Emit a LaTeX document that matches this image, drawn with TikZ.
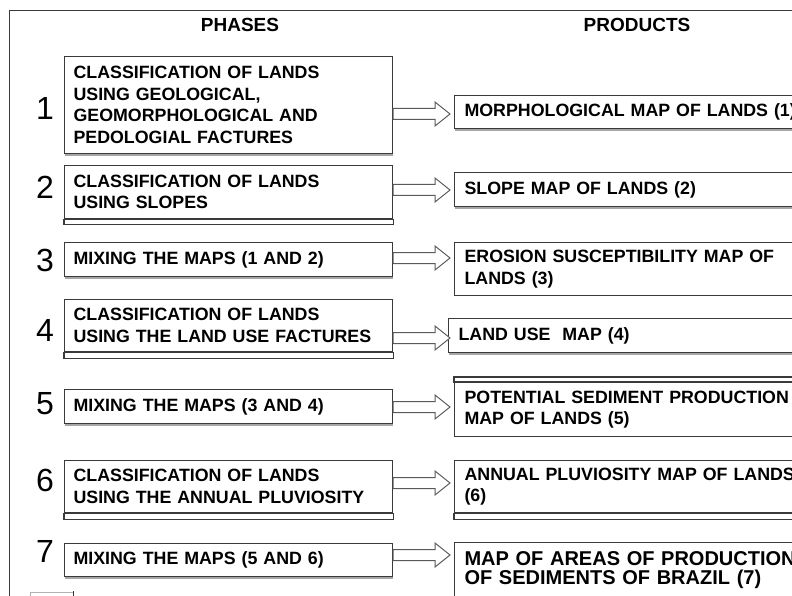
\documentclass[tikz,border=0pt]{standalone}
\usepackage{fontspec}
\setmainfont{Liberation Sans}
\usetikzlibrary{calc,shadows}
\definecolor{edge}{HTML}{3A3A3A}
\definecolor{arrowc}{HTML}{5A5A5A}
\begin{document}
\begin{tikzpicture}[x=1pt,y=-1pt,
  boxline/.style={draw=edge, line width=1.1pt},
  phase/.style={boxline, fill=white, anchor=north west, minimum width=328pt,
    text width=310pt, inner xsep=9pt, inner ysep=0pt, align=left,
    font=\fontsize{17.8}{21.5}\selectfont\bfseries},
  product/.style={phase, minimum width=380pt, text width=360pt, inner xsep=10pt},
  shad/.style={drop shadow={shadow xshift=0.5pt, shadow yshift=-2.2pt, fill=gray!70, opacity=1}},
  num/.style={font=\fontsize{32}{32}\selectfont, text=black, inner sep=0pt},
  head/.style={font=\fontsize{19}{19}\selectfont\bfseries, inner sep=0pt},
  hollow/.style={draw=arrowc, fill=white, line width=1pt, line join=miter,
    to path={let \p1=(\tikztostart), \p2=(\tikztotarget) in
      (\x1,\y1+5.5pt) -- (\x2-15pt,\y1+5.5pt) -- (\x2-15pt,\y1+12pt) -- (\x2,\y1)
      -- (\x2-15pt,\y1-12pt) -- (\x2-15pt,\y1-5.5pt) -- (\x1,\y1-5.5pt) -- cycle}}
]
\fill[white] (0,0) rectangle (792,596);
\useasboundingbox (0,0) rectangle (792,596);

% outer frame
\draw[edge, line width=1pt] (9,596) -- (9,11) -- (792,11);

% headings
\node[head] (h1) at (240,25) {PHASES};
\node[head] (h2) at (637,25) {PRODUCTS};

% phase boxes
\node[phase, shad, minimum height=97pt] (p1) at (64,56)
  {CLASSIFICATION OF LANDS\\USING GEOLOGICAL,\\GEOMORPHOLOGICAL AND\\PEDOLOGIAL FACTURES};
\node[phase, minimum height=53pt] (p2) at (64,165)
  {CLASSIFICATION OF LANDS\\USING SLOPES};
\draw[boxline] (p2.south west) rectangle ($(p2.south east)+(0,5)$);
\node[phase, shad, minimum height=34pt] (p3) at (64,242) {MIXING THE MAPS (1 AND 2)};
\node[phase, minimum height=52pt] (p4) at (64,299)
  {CLASSIFICATION OF LANDS\\USING THE LAND USE FACTURES};
\draw[boxline] (p4.south west) rectangle ($(p4.south east)+(0,6)$);
\node[phase, shad, minimum height=34pt] (p5) at (64,389) {MIXING THE MAPS (3 AND 4)};
\node[phase, minimum height=52pt] (p6) at (64,460)
  {CLASSIFICATION OF LANDS\\USING THE ANNUAL PLUVIOSITY};
\draw[boxline] (p6.south west) rectangle ($(p6.south east)+(0,6)$);
\node[phase, shad, minimum height=33pt] (p7) at (64,543) {MIXING THE MAPS (5 AND 6)};

% numbers
\node[num] (n1) at (45,108) {1};
\node[num] (n2) at (45,187) {2};
\node[num] (n3) at (45,260) {3};
\node[num] (n4) at (45,330) {4};
\node[num] (n5) at (45,404) {5};
\node[num] (n6) at (45,480) {6};
\node[num] (n7) at (45,551) {7};

% product boxes
\node[product, shad, minimum height=33pt] (q1) at (454,95) {MORPHOLOGICAL MAP OF LANDS (1)};
\node[product, shad, minimum height=34pt] (q2) at (454,172) {SLOPE MAP OF LANDS (2)};
\node[product, minimum height=53pt] (q3) at (454,242) {EROSION SUSCEPTIBILITY MAP OF\\LANDS (3)};
\node[product, shad, minimum height=34pt] (q4) at (448,318) {LAND USE~ MAP (4)};
\node[product, minimum height=54pt] (q5) at (454,382) {POTENTIAL SEDIMENT PRODUCTION\\MAP OF LANDS (5)};
\draw[boxline] (q5.north west) rectangle ($(q5.north east)+(0,-5)$);
\node[product, minimum height=52pt] (q6) at (454,460) {ANNUAL PLUVIOSITY MAP OF LANDS\\(6)};
\draw[boxline] (q6.south west) rectangle ($(q6.south east)+(0,6)$);
\node[product, minimum height=56pt, font=\fontsize{20}{19}\selectfont\bfseries] (q7) at (454,542)
  {MAP OF AREAS OF PRODUCTION\\OF SEDIMENTS OF BRAZIL (7)};

% arrow levels
\coordinate (a1) at (0,114);
\coordinate (a2) at (0,190);
\coordinate (a3) at (0,258);
\coordinate (a4) at (0,338);
\coordinate (a5) at (0,407);
\coordinate (a6) at (0,483);
\coordinate (a7) at (0,555);

% hollow arrows
\draw[hollow] (p1.east |- a1) to ([xshift=-4pt]q1.west |- a1);
\draw[hollow] (p2.east |- a2) to ([xshift=-4pt]q2.west |- a2);
\draw[hollow] (p3.east |- a3) to ([xshift=-4pt]q3.west |- a3);
\draw[hollow] (p4.east |- a4) to ([xshift=2pt]q4.west |- a4);
\draw[hollow] (p5.east |- a5) to ([xshift=-4pt]q5.west |- a5);
\draw[hollow] (p6.east |- a6) to ([xshift=-4pt]q6.west |- a6);
\draw[hollow] (p7.east |- a7) to ([xshift=-4pt]q7.west |- a7);

% small partial box at bottom left
\draw[gray!60, line width=0.8pt] (30,597) |- (73,592);
\draw[edge, line width=0.8pt] (73,591) -- (73,597);
\end{tikzpicture}
\end{document}
